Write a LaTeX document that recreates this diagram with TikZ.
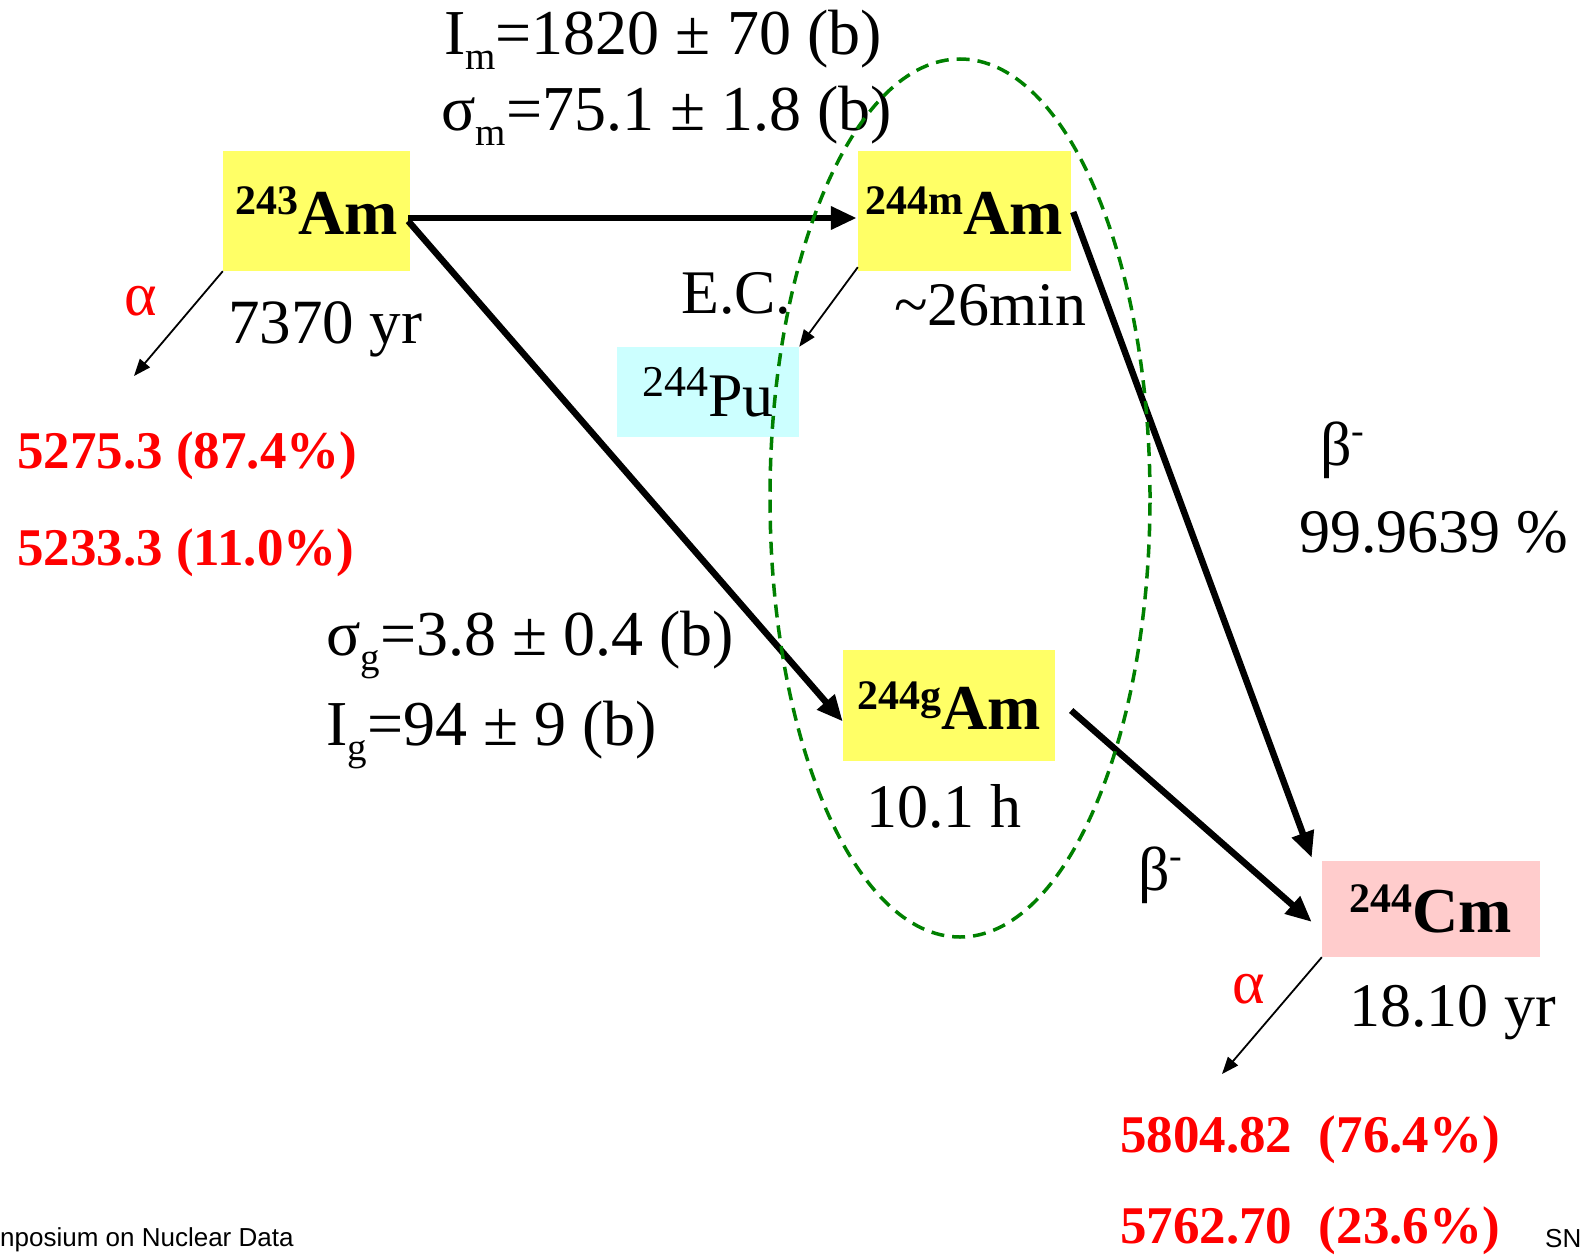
\documentclass[tikz,border=0pt]{standalone}
\usepackage{fontspec}
\setmainfont{Liberation Serif}
\setsansfont{Liberation Sans}
\usepackage{tikz}
\usetikzlibrary{arrows.meta,calc}

\definecolor{amyellow}{RGB}{255,255,102}
\definecolor{pucyan}{RGB}{204,255,255}
\definecolor{cmpink}{RGB}{255,204,204}
\definecolor{ovalgreen}{RGB}{0,128,0}

\newcommand{\iso}[2]{\raisebox{20pt}{\fontsize{42}{42}\selectfont #1}#2}
\newcommand{\subidx}[1]{\raisebox{-15pt}{\fontsize{39}{39}\selectfont #1}}
\newcommand{\supminus}{\raisebox{22pt}{\fontsize{38}{38}\selectfont -}}

\begin{document}
\begin{tikzpicture}[
  x=1pt, y=-1pt,
  nuc/.style={inner sep=0pt, align=center, font=\fontsize{64}{64}\selectfont\bfseries},
  txt/.style={anchor=base west, inner sep=0pt, font=\fontsize{62}{62}\selectfont},
  xsec/.style={txt, font=\fontsize{64}{64}\selectfont},
  energy/.style={txt, text=red, font=\fontsize{53}{53}\selectfont\bfseries},
  foot/.style={anchor=base west, inner sep=0pt, font=\fontsize{26}{26}\selectfont\sffamily},
  bigarr/.style={line width=6.5pt, -{Triangle[length=26pt,width=22pt]}},
  smallarr/.style={line width=1.8pt, -{Triangle[length=17pt,width=13pt]}}
]
\useasboundingbox (0,0) rectangle (1581,1255);

% nuclides
\node[nuc, fill=amyellow, minimum width=187pt, minimum height=120pt] (am243) at (316.5,211) {\iso{243}{Am}};
\node[nuc, fill=amyellow, minimum width=213pt, minimum height=120pt] (am244m) at (964.5,211) {\iso{244m}{Am}};
\node[nuc, fill=pucyan, minimum width=182pt, minimum height=90pt, font=\fontsize{62}{62}\selectfont] (pu244) at (708,392)
  {\raisebox{20pt}{\fontsize{44}{44}\selectfont 244}Pu};
\node[nuc, fill=amyellow, minimum width=212pt, minimum height=111pt] (am244g) at (949,705.5) {\iso{244g}{Am}};
\node[nuc, fill=cmpink, minimum width=218pt, minimum height=96pt] (cm244) at (1431,909) {\iso{244}{Cm}};

% cross sections
\node[xsec] (imval) at (444,55) {I\subidx{m}=1820 ± 70 (b)};
\node[xsec] (smval) at (441,130) {σ\subidx{m}=75.1 ± 1.8 (b)};
\node[xsec] (sgval) at (326,655) {σ\subidx{g}=3.8 ± 0.4 (b)};
\node[xsec] (igval) at (326,745) {I\subidx{g}=94 ± 9 (b)};

% half lives and decay labels
\node[txt, font=\fontsize{63}{63}\selectfont] (t243) at (228,343) {7370 yr};
\node[txt, text=red] (alpha1) at (124,315) {α};
\node[txt] (ec) at (681,313) {E.C.};
\node[txt] (t244m) at (894,325) {\textasciitilde 26min};
\node[txt] (beta1) at (1320,465) {β\supminus};
\node[txt] (branch) at (1299,552) {99.9639 \%};
\node[txt] (t244g) at (866,827) {10.1 h};
\node[txt] (beta2) at (1138,890) {β\supminus};
\node[txt, text=red] (alpha2) at (1232,1003) {α};
\node[txt] (t244cm) at (1349,1026) {18.10 yr};

% alpha energies
\node[energy] (e1) at (17,468) {5275.3 (87.4\%)};
\node[energy] (e2) at (17,565) {5233.3 (11.0\%)};
\node[energy] (e3) at (1120,1152) {5804.82\ \ (76.4\%)};
\node[energy] (e4) at (1120,1243) {5762.70\ \ (23.6\%)};

% footer
\node[foot] (footl) at (0,1246) {nposium on Nuclear Data};
\node[foot] (footr) at (1545,1247) {SN};

% capture and beta arrows
\draw[bigarr] ($(am243.east)+(-2,7)$) -- ($(am244m.west)+(-1,7)$);
\draw[bigarr] ($(am243.east)+(-2,10)$) -- ($(am244g.west)+(0,16)$);
\draw[bigarr] ($(am244m.east)+(2,1)$) -- ($(cm244.north west)+(-10,-3)$);
\draw[bigarr] ($(am244g.east)+(16,5)$) -- ($(cm244.west)+(-10,13)$);

% alpha and EC arrows
\coordinate (alphaAm) at (134,376);
\coordinate (alphaCm) at (1222,1074);
\draw[smallarr] (am243.south west) -- (alphaAm);
\draw[smallarr] ($(am244m.south west)+(0,-4)$) -- (pu244.north east);
\draw[smallarr] (cm244.south west) -- (alphaCm);

% isomer pair
\draw[ovalgreen, line width=3.5pt, dash pattern=on 13pt off 8pt] (960,498) ellipse [x radius=190pt, y radius=439pt];
\end{tikzpicture}
\end{document}
